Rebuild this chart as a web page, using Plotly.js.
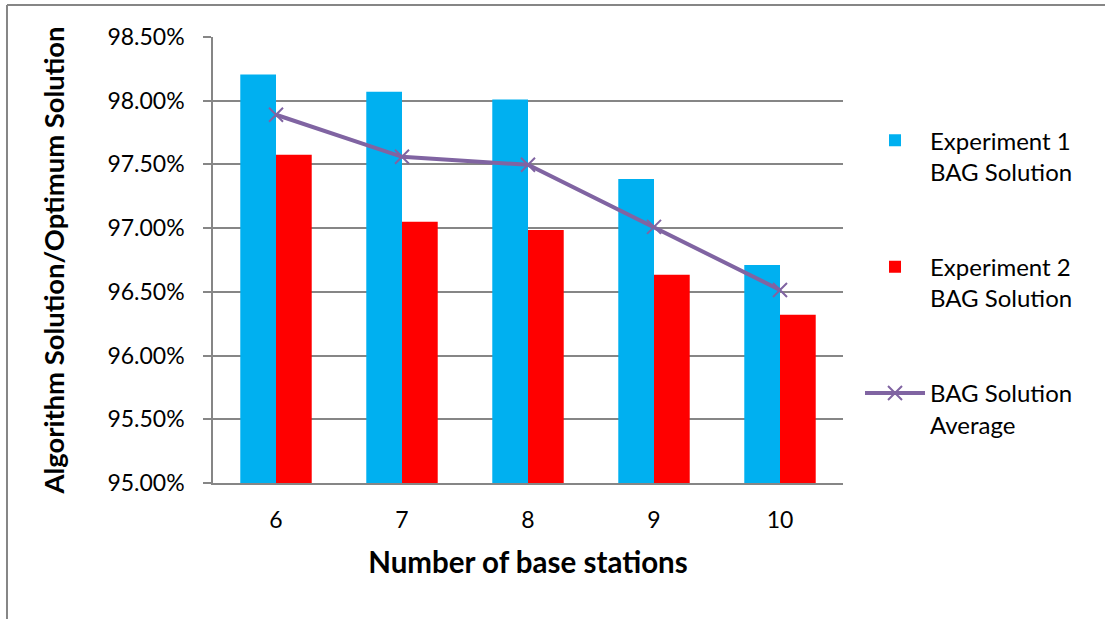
<!DOCTYPE html>
<html>
<head>
<meta charset="utf-8">
<script src="https://cdn.plot.ly/plotly-3.0.1.min.js"></script>
<style>
  html, body { margin: 0; padding: 0; background: #fff; }
  #chart { width: 1105px; height: 619px; }
</style>
</head>
<body>
<div id="chart"></div>
<script>
const categories = ["6", "7", "8", "9", "10"];
const experiment1 = [0.98205, 0.98070, 0.98010, 0.97385, 0.96710];
const experiment2 = [0.97575, 0.97050, 0.96985, 0.96635, 0.96320];
const average = [0.97890, 0.97560, 0.97497, 0.97010, 0.96515];

const FONT = "Lato, 'Open Sans', sans-serif";

const traces = [
  {
    type: "bar", x: categories, y: experiment1,
    name: "Experiment 1<br>BAG Solution", legendgroup: "g1",
    marker: { color: "#00B0F0" }
  },
  {
    type: "bar", x: categories, y: experiment2,
    name: "Experiment 2<br>BAG Solution", legendgroup: "g2",
    marker: { color: "#FF0000" }
  },
  {
    type: "scatter", mode: "lines+markers", x: categories, y: average,
    name: "BAG Solution<br>Average", legendgroup: "g3",
    line: { color: "#8064A2", width: 4 },
    marker: { symbol: "x-thin", size: 14, line: { color: "#8064A2", width: 2 }, color: "#8064A2" }
  }
];

const layout = {
  width: 1105, height: 619,
  margin: { l: 213, r: 262, t: 37, b: 136 },
  paper_bgcolor: "#ffffff", plot_bgcolor: "#ffffff",
  font: { family: FONT, size: 23, color: "#000000" },
  barmode: "group", bargap: 0.433, bargroupgap: 0,
  showlegend: true,
  legend: {
    x: 1.027, xanchor: "left", y: 0.818, yanchor: "top",
    traceorder: "grouped", tracegroupgap: 61, valign: "top",
    font: { family: FONT, size: 24, color: "#000000" },
    itemwidth: 60
  },
  xaxis: {
    type: "category",
    showline: true, linecolor: "#868686", linewidth: 1.5,
    ticks: "", showgrid: false, zeroline: false,
    tickfont: { family: FONT, size: 23 },
    ticklabelstandoff: 16,
    title: { text: "Number of base stations", font: { family: FONT, size: 29.5, weight: "bold" }, standoff: 20 }
  },
  yaxis: {
    range: [0.95, 0.985], dtick: 0.005, tick0: 0.95, tickformat: ".2%",
    showline: true, linecolor: "#868686", linewidth: 1.5,
    ticks: "outside", ticklen: 8, tickcolor: "#868686", tickwidth: 1.5,
    showgrid: true, gridcolor: "#868686", gridwidth: 1.5,
    zeroline: false,
    tickfont: { family: FONT, size: 23 },
    ticklabelstandoff: 14,
    title: { text: "Algorithm Solution/Optimum Solution", font: { family: FONT, size: 27.4, weight: "bold" }, standoff: 35 }
  },
  shapes: [
    { type: "line", xref: "paper", yref: "paper", x0: -0.327, x1: -0.327, y0: -0.4, y1: 1.0717, line: { color: "#868686", width: 2 } },
    { type: "line", xref: "paper", yref: "paper", x0: -0.327, x1: 1.5, y0: 1.0717, y1: 1.0717, line: { color: "#868686", width: 2 } }
  ]
};

Plotly.newPlot("chart", traces, layout, { displayModeBar: false, responsive: false });
</script>
</body>
</html>
